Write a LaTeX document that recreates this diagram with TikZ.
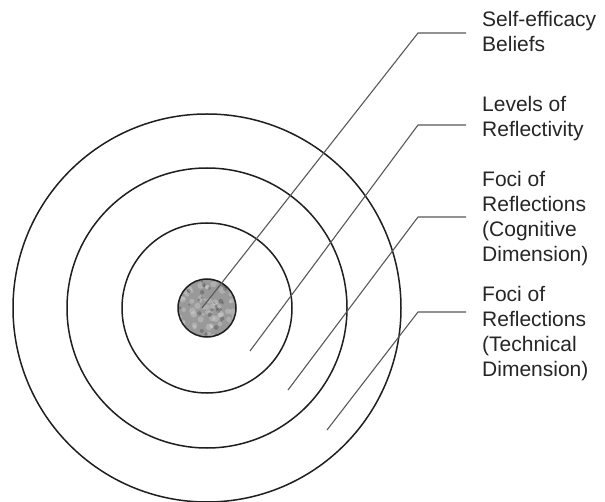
\documentclass[tikz,border=0pt]{standalone}
\usepackage{fontspec}
\setmainfont{Liberation Sans}
\begin{document}
\begin{tikzpicture}[x=1pt,y=-1pt,
  ring/.style={draw=black!88,line width=1.5pt},
  leader/.style={draw=black!65,line width=1.1pt},
  lbl/.style={anchor=base west,inner sep=0pt,align=left,font=\fontsize{21}{25}\selectfont,text=black!85}]
\useasboundingbox (0,0) rectangle (605,502);
\fill[white] (0,0) rectangle (605,502);
\coordinate (c) at (207,308);
% core
\fill[black!40] (c) circle (29);
\begin{scope}
  \clip (c) circle (29);
  \pgfmathsetseed{7}
  \foreach \i in {1,...,70}{
    \pgfmathsetmacro{\px}{207+29*rand}
    \pgfmathsetmacro{\py}{308+29*rand}
    \pgfmathsetmacro{\rr}{1.5+2*rnd}
    \fill[white,opacity=0.22] (\px,\py) circle (\rr);
  }
  \foreach \i in {1,...,40}{
    \pgfmathsetmacro{\px}{207+29*rand}
    \pgfmathsetmacro{\py}{308+29*rand}
    \pgfmathsetmacro{\rr}{1+1.5*rnd}
    \fill[black,opacity=0.2] (\px,\py) circle (\rr);
  }
\end{scope}
\draw[ring] (c) circle (29);
% rings
\draw[ring] (c) circle (85);
\draw[ring] (c) circle (140);
\draw[ring] (c) circle (194);
% leader coordinates
\coordinate (s1) at (202,308); \coordinate (b1) at (418,33);  \coordinate (e1) at (466,33);
\coordinate (s2) at (250,351); \coordinate (b2) at (418,125); \coordinate (e2) at (466,125);
\coordinate (s3) at (288,390); \coordinate (b3) at (418,217); \coordinate (e3) at (466,217);
\coordinate (s4) at (327,430); \coordinate (b4) at (418,312); \coordinate (e4) at (466,312);
\draw[leader] (s1) -- (b1) -- (e1);
\draw[leader] (s2) -- (b2) -- (e2);
\draw[leader] (s3) -- (b3) -- (e3);
\draw[leader] (s4) -- (b4) -- (e4);
% labels (anchored at the baseline of their last line)
\node[lbl] (t1) at (482,52) {Self-efficacy\\Beliefs};
\node[lbl] (t2) at (482,137) {Levels of\\Reflectivity};
\node[lbl] (t3) at (482,262) {Foci of\\Reflections\\(Cognitive\\Dimension)};
\node[lbl] (t4) at (482,377) {Foci of\\Reflections\\(Technical\\Dimension)};
\end{tikzpicture}
\end{document}
